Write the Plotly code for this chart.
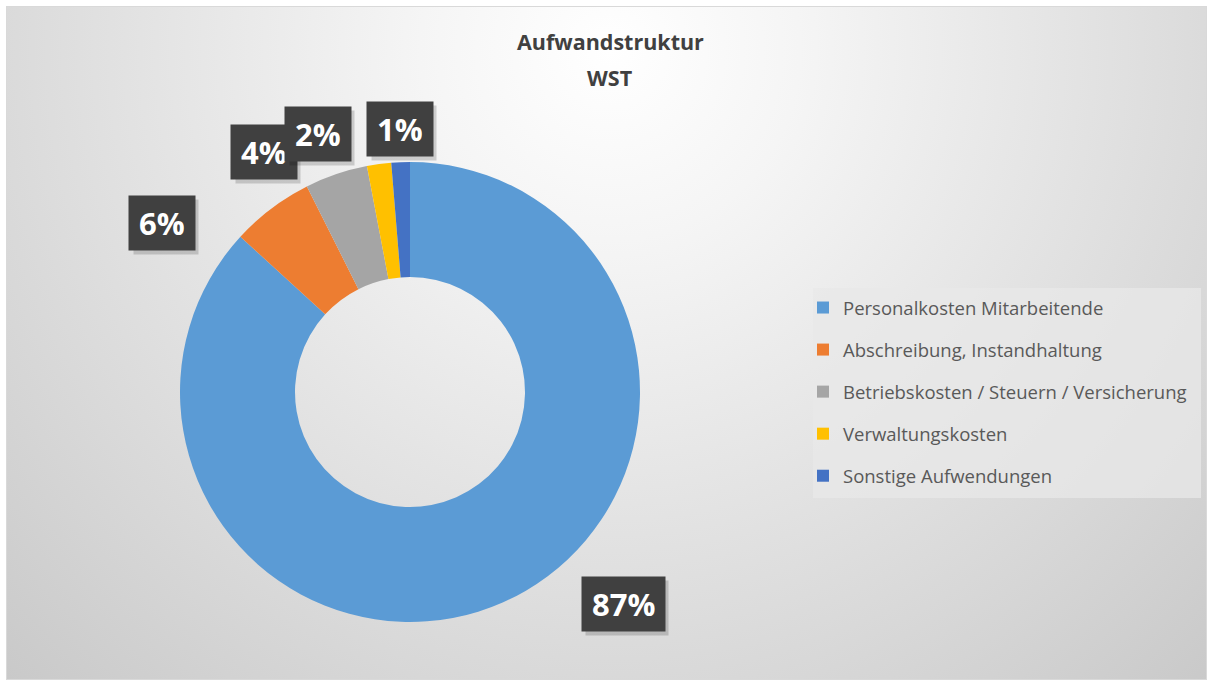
import plotly.graph_objects as go
import urllib.parse

categories = ["Personalkosten Mitarbeitende", "Abschreibung, Instandhaltung",
              "Betriebskosten / Steuern / Versicherung", "Verwaltungskosten",
              "Sonstige Aufwendungen"]
values = [86.8, 5.8, 4.4, 1.7, 1.3]
colors = ["#5B9BD5", "#ED7D31", "#A5A5A5", "#FFC000", "#4472C4"]
label_texts = [f"{round(v)}%" for v in values]
title_lines = ["Aufwandstruktur", "WST"]

W, H = 1213, 686
# label box centres in pixels (Excel best-fit placement)
label_px = [(623, 604), (162, 223), (264, 152), (318, 134), (400, 129)]
LABEL_SIZE = 31

def px(x, y):
    return x / W, 1 - y / H

def text_width(t):
    # approximate Open Sans Bold advance widths
    return sum((0.86 if ch == "%" else 0.572) for ch in t) * LABEL_SIZE

svg = f'''<svg xmlns="http://www.w3.org/2000/svg" width="{W}" height="{H}">
<defs><radialGradient id="g" cx="610" cy="50" r="950" gradientUnits="userSpaceOnUse">
<stop offset="0" stop-color="#ffffff"/><stop offset="0.2" stop-color="#f5f5f5"/><stop offset="1" stop-color="#c4c4c4"/></radialGradient></defs>
<rect x="0" y="0" width="{W}" height="{H}" fill="#ffffff"/>
<rect x="6.5" y="6.5" width="{W-13}" height="{H-13}" fill="url(#g)" stroke="#d9d9d9" stroke-width="1"/>
</svg>'''
src = "data:image/svg+xml;charset=utf-8," + urllib.parse.quote(svg)

fig = go.Figure()
fig.add_trace(go.Pie(
    labels=categories, values=values, hole=0.5, sort=False, direction="clockwise",
    rotation=0, marker=dict(colors=colors, line=dict(width=0)), textinfo="none",
    hoverinfo="label+percent", showlegend=False,
    domain=dict(x=[180 / W, 640 / W], y=[1 - 622 / H, 1 - 162 / H]),
))
# legend entries (one group each so rows can be spaced like the reference)
for c, col in zip(categories, colors):
    fig.add_trace(go.Scatter(x=[None], y=[None], mode="markers", name=c, legendgroup=c,
                             marker=dict(symbol="square", size=12, color=col),
                             hoverinfo="skip"))

annotations = []
for (x, y), t in zip(label_px, label_texts):
    ax, ay = px(x, y)
    # soft drop shadow (empty box)
    annotations.append(dict(x=ax, y=ay, xref="paper", yref="paper", text="&nbsp;",
                            showarrow=False, xshift=4, yshift=-4, height=34,
                            width=round(text_width(t)), xanchor="center", yanchor="middle",
                            font=dict(family="Open Sans", size=LABEL_SIZE, color="rgba(0,0,0,0)"),
                            bgcolor="rgba(0,0,0,0.16)", borderpad=10))
    annotations.append(dict(x=ax, y=ay, xref="paper", yref="paper", text=f"<b>{t}</b>",
                            showarrow=False, height=34, xanchor="center", yanchor="middle",
                            font=dict(family="Open Sans", size=LABEL_SIZE, color="#ffffff"),
                            bgcolor="#404040", borderpad=10))
for (y, t) in zip([42, 77], title_lines):
    tx, ty = px(610, y)
    annotations.append(dict(x=tx, y=ty, xref="paper", yref="paper", text=f"<b>{t}</b>",
                            showarrow=False, xanchor="center", yanchor="middle",
                            font=dict(family="Open Sans", size=21.5, color="#404040")))

x0, y1 = px(813, 288)
x1, y0 = px(1201, 498)
lx, ly = px(803, 289)

fig.update_layout(
    width=W, height=H,
    margin=dict(l=0, r=0, t=0, b=0),
    paper_bgcolor="#ffffff", plot_bgcolor="rgba(0,0,0,0)",
    xaxis=dict(visible=False), yaxis=dict(visible=False),
    images=[dict(source=src, xref="paper", yref="paper", x=0, y=1, sizex=1, sizey=1,
                 xanchor="left", yanchor="top", sizing="stretch", layer="below")],
    shapes=[dict(type="rect", xref="paper", yref="paper", x0=x0, x1=x1, y0=y0, y1=y1,
                 fillcolor="rgba(232,232,232,0.75)", line=dict(width=0), layer="below")],
    legend=dict(x=lx, y=ly, xanchor="left", yanchor="top",
                bgcolor="rgba(0,0,0,0)", borderwidth=0,
                font=dict(family="Open Sans", size=18.5, color="#595959"),
                tracegroupgap=15, itemwidth=30),
    annotations=annotations,
    showlegend=True,
)

fig.write_html("out.html", config={"displayModeBar": False},
               post_script="document.body.style.margin='0';document.body.style.overflow='hidden';")
